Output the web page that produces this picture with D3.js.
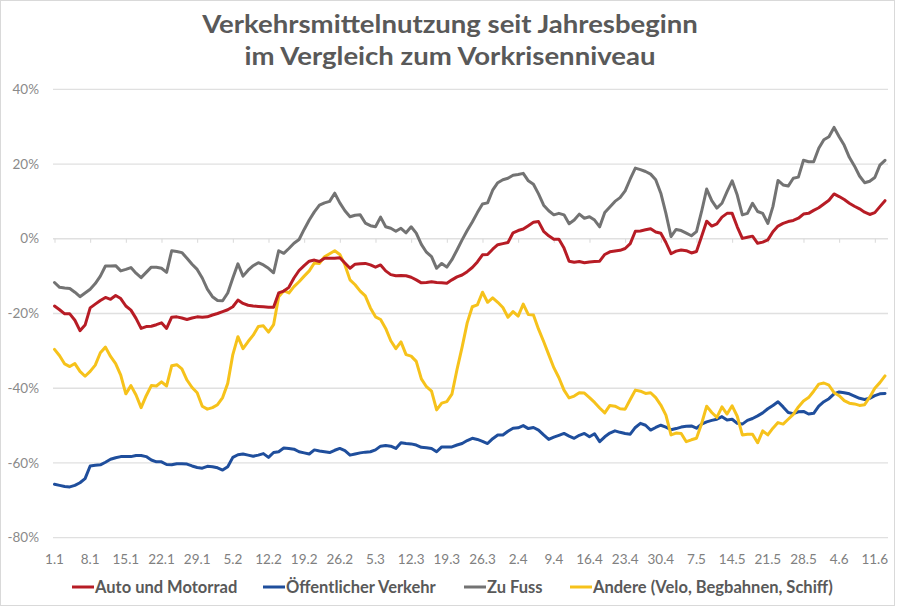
<!DOCTYPE html>
<html><head><meta charset="utf-8">
<script src="https://cdn.jsdelivr.net/npm/d3@7"></script>
<style>body{margin:0;background:#fff}svg{display:block}text{font-family:Lato,"Open Sans",sans-serif}</style>
</head><body><svg id="c" width="900" height="607"></svg>
<script>
const startDate = "2021-01-01";
const tickLabels = ["1.1","8.1","15.1","22.1","29.1","5.2","12.2","19.2","26.2","5.3","12.3","19.3","26.3","2.4","9.4","16.4","23.4","30.4","7.5","14.5","21.5","28.5","4.6","11.6"];
const yTicks = [40,20,0,-20,-40,-60,-80];
const seriesNames = ["Auto und Motorrad","Öffentlicher Verkehr","Zu Fuss","Andere (Velo, Begbahnen, Schiff)"];
const seriesColors = ["#b71c25","#1f4e9c","#737373","#f6c21b"];

const auto = [-18,-19,-20.1,-20.1,-21.8,-24.6,-23.1,-18.5,-17.5,-16.5,-15.7,-16.2,-15.2,-16,-18,-19.1,-21.3,-24,-23.5,-23.4,-23,-22.5,-24,-21,-20.9,-21.2,-21.6,-21.2,-20.9,-21,-20.9,-20.4,-20,-19.5,-19,-18.2,-16.4,-17.3,-17.8,-18,-18.1,-18.2,-18.3,-18.3,-14.5,-14,-13,-10.5,-8.5,-7.2,-6,-5.7,-6.1,-5.2,-5.2,-5.2,-5.1,-6.5,-7.9,-6.8,-6.7,-6.6,-7,-7.6,-7,-8.6,-9.6,-9.9,-9.8,-9.9,-10.3,-11,-11.8,-11.7,-11.5,-11.7,-11.8,-11.9,-11,-10.2,-9.7,-8.8,-7.7,-6.2,-4.3,-4.2,-2.8,-1.6,-1.3,-1,1.6,2.2,2.6,3.5,4.4,4.6,2,0.8,-0.1,-0.1,-2.5,-6,-6.3,-6.1,-6.4,-6.2,-6.1,-6,-4.2,-3.5,-3.3,-3.1,-2.6,-1.3,2,2.1,2.4,2.7,1.8,1.5,-1,-4,-3.3,-3,-3.2,-3.8,-3.4,0.6,4.7,3.4,4,5.8,6.8,6.8,3.2,0.1,0.4,0.7,-1.2,-0.9,-0.3,1.9,3.4,4.1,4.6,4.9,5.5,6.6,6.8,7.6,8.3,9.3,10.3,12,11.3,10.5,9.5,8.7,8,7.1,6.5,7,8.6,10.2];
const oev = [-65.7,-66,-66.3,-66.4,-66,-65.3,-64.2,-60.8,-60.6,-60.5,-59.8,-59,-58.6,-58.3,-58.3,-58.3,-58,-58,-58.3,-59.2,-59.7,-59.7,-60.4,-60.5,-60.2,-60.2,-60.3,-60.8,-61.2,-61.4,-60.9,-61,-61.3,-61.9,-61,-58.5,-57.8,-57.6,-57.9,-58.2,-57.9,-57.5,-58.5,-57.2,-57,-56,-56.1,-56.3,-57,-57.3,-57.6,-56.5,-56.8,-57,-57.2,-56.6,-56.1,-56.7,-57.9,-57.6,-57.3,-57.1,-57,-56.5,-55.5,-55.3,-55.5,-56.1,-54.6,-54.8,-54.9,-55.2,-55.8,-55.9,-56.1,-57,-55.7,-55.7,-55.7,-55.2,-54.8,-54,-53.4,-53.7,-54.2,-54.8,-53.5,-52.5,-52.5,-51.5,-50.7,-50.6,-50,-50.8,-50.5,-51.2,-52.5,-53.7,-53.1,-52.6,-52.1,-52.8,-53.4,-52.6,-52.1,-53,-52.2,-54.3,-53,-52,-51.4,-51.8,-52.1,-52.3,-50.5,-49.4,-49.9,-51.2,-50.5,-49.9,-50.4,-51.1,-50.8,-50.4,-50.2,-50.1,-50.7,-49.6,-49,-48.6,-48.3,-47.6,-48.5,-48.3,-49.4,-49.6,-48.6,-48.1,-47.4,-46.6,-45.5,-44.6,-43.6,-45,-46.5,-46.8,-46.3,-46.2,-46.9,-46.7,-44.8,-43.6,-42.8,-41.5,-41,-41.2,-41.5,-42.1,-42.7,-43,-42.7,-42,-41.5,-41.4];
const fuss = [-11.7,-13,-13.2,-13.3,-14.3,-15.5,-14.5,-13.5,-12,-10,-7.3,-7.3,-7.2,-8.6,-8.2,-7.7,-9.2,-10.4,-9,-7.6,-7.6,-7.9,-9,-3.2,-3.4,-3.7,-5.2,-6.8,-8.2,-10.5,-13.5,-15.5,-16.5,-16.6,-14.5,-10.5,-6.7,-10,-8.4,-7.2,-6.4,-7,-7.9,-9.1,-3.2,-3.9,-2.6,-1.2,-0.2,2.5,5,7.2,9,9.6,10,12.2,9.6,7.5,5.9,6.3,6.4,4.2,3.5,3.2,5.8,3.2,2.8,2,2.8,1.6,3.2,1.5,-1.5,-3.6,-4.8,-7.9,-6.6,-7.6,-5.6,-3,-0.3,2.2,4.5,7,9.3,9.6,13,15,15.8,16.2,17,17.2,17.5,15.5,14.6,12,9,7.5,6.4,6.8,6.4,4,5,6.6,5.5,5.9,5,3.2,7,8.5,10,11,12.8,16,18.9,18.5,18,17.3,15.8,12.2,6.8,0.6,2.5,2.2,1.5,0.8,1.9,7.3,13.3,10.2,8.2,9.5,12.6,15.5,11.7,6.4,6.8,9.5,7.3,6.8,4.1,8.6,15.6,14.4,14.1,16.2,16.5,21,20.6,20.6,24.2,26.5,27.3,29.8,27.3,25,21.8,19.5,16.8,15,15.4,16.4,19.7,21];
const andere = [-29.6,-31.3,-33.5,-34.2,-33.4,-35.5,-36.8,-35.5,-33.8,-30.5,-29,-31.5,-33.4,-36.5,-41.5,-39.3,-41.8,-45.2,-42,-39.3,-39.4,-38.3,-39.4,-34,-33.7,-34.8,-37.8,-39.8,-41.2,-44.8,-45.6,-45.2,-44.4,-42.5,-38.7,-31,-26.2,-29.4,-27.5,-25.8,-23.5,-23.3,-25,-23,-15.5,-13.9,-14.5,-12.8,-11.5,-10,-8.6,-6.5,-6.6,-4.8,-4,-3.2,-4.2,-7,-11,-12.3,-14,-15.3,-18.5,-20.9,-21.6,-24,-27.3,-29.4,-27.6,-31,-31.4,-32.8,-37.5,-39.6,-40.8,-45.8,-44,-43.6,-41.6,-35,-29,-22.5,-18.2,-17.7,-14.3,-17,-15.8,-17,-18.4,-21,-19.5,-20.7,-17.5,-20.3,-20.4,-24.2,-27.5,-31,-34.5,-37.2,-40.5,-42.6,-42.1,-41.2,-41.3,-42.5,-43.8,-45.3,-46.6,-44.6,-44.8,-45.5,-45.6,-43,-40.5,-40.8,-41.4,-41.2,-42.5,-44.5,-47.2,-52.5,-52,-52.1,-54.3,-53.8,-53.4,-49.5,-44.8,-46.5,-47.8,-45,-46.9,-44.7,-47.5,-52.5,-52.3,-52.3,-54.6,-51.4,-52.5,-50.7,-49.2,-49.6,-48.3,-47,-45,-43.4,-42.5,-40.8,-38.9,-38.6,-39.2,-41.2,-42,-43.3,-44,-44.2,-44.6,-44.4,-42.4,-40,-38.5,-36.7];

const svg = d3.select("#c");
const t0 = new Date(startDate + "T00:00:00");
const dates = auto.map((_, i) => d3.timeDay.offset(t0, i));
const fmt = d3.timeFormat("%-d.%-m");

const x = d3.scaleTime().domain([dates[0], dates[dates.length - 1]]).range([54.5, 885]);
const y = d3.scaleLinear().domain([-80, 40]).range([537.7, 89.3]);

// frame
svg.append("rect").attr("x", 0.5).attr("y", 0.5).attr("width", 894).attr("height", 605)
  .attr("fill", "#fff").attr("stroke", "#d9d9d9");

// title (slightly widened, like the original)
const title = svg.append("text").attr("text-anchor", "middle").attr("fill", "#595959")
  .attr("font-size", 25.5).attr("font-weight", 700)
  .attr("transform", "translate(450,0) scale(1.08,1)");
title.append("tspan").attr("x", 0).attr("y", 33).text("Verkehrsmittelnutzung seit Jahresbeginn");
title.append("tspan").attr("x", 0).attr("y", 65).text("im Vergleich zum Vorkrisenniveau");

// gridlines
svg.append("g").selectAll("line").data(yTicks).join("line")
  .attr("x1", 53).attr("x2", 888).attr("y1", d => y(d)).attr("y2", d => y(d))
  .attr("stroke", "#e0e0e0").attr("stroke-width", 1.3);

// y axis labels
svg.append("g").selectAll("text").data(yTicks).join("text")
  .attr("x", 39).attr("y", d => y(d)).attr("dy", "0.35em").attr("text-anchor", "end")
  .attr("fill", "#8a8a8a").attr("font-size", 13.5).text(d => d + "%");

// x ticks: tick marks at 0% line, labels at bottom
const tickDates = dates.filter(d => tickLabels.includes(fmt(d)));
const xa = svg.append("g").attr("transform", `translate(0,${y(0)})`)
  .call(d3.axisBottom(x).tickValues(tickDates).tickSize(4).tickFormat(""));
xa.select(".domain").remove();
xa.selectAll(".tick line").attr("stroke", "#d9d9d9");

svg.append("g").selectAll("text").data(tickDates).join("text")
  .attr("x", d => x(d)).attr("y", 564).attr("text-anchor", "middle")
  .attr("fill", "#808080").attr("font-size", 13.5).text(d => fmt(d));

// lines
const allSeries = [auto, oev, fuss, andere];
const drawOrder = [1, 3, 0, 2];
const line = d3.line().x((d, i) => x(dates[i])).y(d => y(d));
drawOrder.forEach(k => {
  svg.append("path").datum(allSeries[k]).attr("d", line)
    .attr("fill", "none").attr("stroke", seriesColors[k]).attr("stroke-width", 3)
    .attr("stroke-linejoin", "round").attr("stroke-linecap", "round");
});

// legend
const legX = [72, 263, 464, 570];
const lg = svg.append("g");
seriesNames.forEach((n, k) => {
  lg.append("line").attr("x1", legX[k]).attr("x2", legX[k] + 22).attr("y1", 587).attr("y2", 587)
    .attr("stroke", seriesColors[k]).attr("stroke-width", 3);
  lg.append("text").attr("x", legX[k] + 23).attr("y", 587).attr("dy", "0.35em")
    .attr("fill", "#595959").attr("font-size", 16.5).attr("font-weight", 700).text(n);
});
</script></body></html>
